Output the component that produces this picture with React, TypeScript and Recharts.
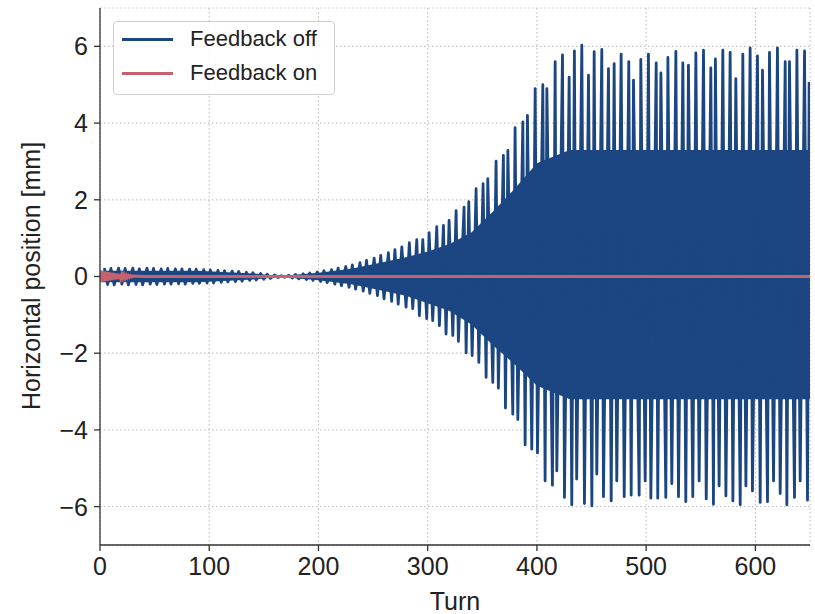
import {
  ComposedChart,
  Area,
  Line,
  XAxis,
  YAxis,
  CartesianGrid,
} from 'recharts';

// beam position vs turn
// positive excursions (turn, mm)
const upperSpikes: [number, number][] = [
  [4, 0.22], [10, 0.21], [17, 0.22], [23, 0.21], [30, 0.22], [36, 0.2], [43, 0.22], [49, 0.21],
  [56, 0.2], [62, 0.21], [69, 0.2], [75, 0.2], [82, 0.19], [88, 0.19], [95, 0.18], [101, 0.17],
  [108, 0.16], [114, 0.15], [121, 0.14], [127, 0.13], [134, 0.11], [140, 0.1], [147, 0.08],
  [153, 0.06], [160, 0.04], [166, 0.02], [173, 0.03], [179, 0.05], [186, 0.07], [192, 0.09],
  [199, 0.12], [205, 0.15], [212, 0.18], [218, 0.22], [225, 0.26], [231, 0.3], [238, 0.36],
  [244, 0.42], [251, 0.48], [257, 0.55], [264, 0.62], [270, 0.7],
  [276.3, 0.77], [283.2, 0.88], [290, 0.96], [295.5, 0.96], [301.3, 1.14], [308.3, 1.3],
  [314.4, 1.33], [319.6, 1.46], [326, 1.72], [333.3, 1.81], [337.6, 1.95], [344.3, 2.29],
  [350.7, 2.42], [355, 2.55], [362.6, 3.01], [369.3, 3.16], [373.4, 3.29], [380, 3.88],
  [387.1, 4.03], [391.3, 4.2], [398.4, 4.9], [405.4, 5.0], [409.1, 4.9], [416.7, 5.6],
  [423.4, 5.78], [429.5, 5.2], [434.3, 5.88], [441.1, 6.03], [447.2, 5.25], [452.4, 5.86],
  [459.4, 5.92], [465.5, 5.42], [470.7, 5.55], [477.1, 5.8], [484.1, 5.6], [488.4, 5.12],
  [495.1, 5.66], [502.1, 5.8], [509.2, 5.57], [513.5, 5.31], [519.9, 5.71], [527.2, 5.87],
  [533.6, 5.57], [538.7, 5.51], [545.5, 5.83], [552.5, 5.9], [559.2, 5.44], [563.4, 5.67],
  [570.2, 5.9], [576.9, 5.84], [582.1, 5.16], [588.5, 5.8], [595.2, 5.96], [601.9, 5.75],
  [606.5, 5.38], [612.9, 5.84], [620.2, 5.96], [627.3, 5.6], [631.2, 5.6], [638, 5.9],
  [645, 5.88], [649.2, 5.07],
];

// negative excursions (turn, mm)
const lowerSpikes: [number, number][] = [
  [7, -0.21], [13, -0.22], [20, -0.2], [26, -0.22], [33, -0.21], [39, -0.22], [46, -0.2],
  [52, -0.21], [59, -0.2], [65, -0.2], [72, -0.19], [78, -0.2], [85, -0.18], [91, -0.18],
  [98, -0.17], [104, -0.17], [111, -0.15], [117, -0.14], [124, -0.13], [130, -0.12],
  [137, -0.1], [143, -0.09], [150, -0.07], [156, -0.05], [163, -0.03], [169, -0.02],
  [176, -0.04], [182, -0.06], [189, -0.08], [195, -0.1], [202, -0.13], [208, -0.16],
  [215, -0.2], [221, -0.24], [228, -0.28], [234, -0.33], [241, -0.38], [247, -0.44],
  [254, -0.5], [260, -0.58], [267, -0.65], [273, -0.72],
  [280.2, -0.8], [286.3, -0.84], [292.4, -1.02], [299.1, -1.1], [304.6, -1.15], [310.7, -1.28],
  [316.8, -1.5], [323, -1.54], [328.1, -1.69], [335.2, -1.99], [340.7, -2.06], [346.8, -2.24],
  [353.5, -2.63], [359.6, -2.76], [364.7, -2.91], [371.2, -3.43], [377.9, -3.59],
  [382.5, -3.73], [389.2, -4.39], [395.3, -4.5], [400.5, -4.6], [407.5, -5.33], [414.2, -5.44],
  [418.2, -5.07], [425.2, -5.76], [431.9, -5.95], [436.4, -5.28], [443.5, -5.92],
  [450.3, -5.98], [454.8, -5.15], [460.9, -5.74], [468, -5.85], [473.1, -5.33], [479.9, -5.74],
  [486.3, -5.7], [493.6, -5.7], [499.1, -5.33], [504.3, -5.78], [510.6, -5.78], [518, -5.76],
  [523.5, -5.4], [529.6, -5.74], [536.3, -5.87], [542.7, -5.74], [548.5, -5.33], [555, -5.8],
  [561.6, -5.94], [566.8, -5.46], [573, -5.72], [579.4, -5.85], [586.1, -5.95], [591.3, -5.46],
  [597.3, -5.59], [604.4, -5.89], [611.1, -5.87], [616.6, -5.33], [622.7, -5.66],
  [628.8, -5.95], [635.8, -5.76], [641, -5.33], [647.7, -5.83],
];

// solid core of the oscillation (turn, top, bottom)
const coreBand: [number, number, number][] = [
  [0, 0.15, -0.15], [90, 0.15, -0.15], [140, 0.08, -0.08], [165, 0.01, -0.01],
  [200, 0.1, -0.1], [230, 0.2, -0.2], [260, 0.38, -0.38], [280, 0.5, -0.5],
  [300, 0.65, -0.7], [320, 0.85, -0.9], [340, 1.15, -1.25], [360, 1.7, -1.8],
  [380, 2.3, -2.3], [400, 2.95, -2.85], [430, 3.3, -3.2], [650, 3.3, -3.2],
];

// feedback on: small kick at the start, damped within ~30 turns
const feedbackOnStart = [
  0.15, -0.14, 0.14, -0.13, 0.13, -0.12, 0.12, -0.11, 0.11, -0.1, 0.1, -0.09, 0.09, -0.08,
  0.08, -0.07, 0.07, -0.06, 0.06, -0.05, 0.05, -0.04, 0.04, -0.04, 0.03, -0.03, 0.02, -0.02,
  0.02, -0.01, 0.01,
];

const xTicks = [0, 100, 200, 300, 400, 500, 600];
const yTicks = [-6, -4, -2, 0, 2, 4, 6];

const BLUE = '#1c4682';
const RED = '#c4626e';
const FONT = '"Liberation Sans", Arial, sans-serif';

const offRows = [...upperSpikes, ...lowerSpikes]
  .map(([turn, v]) => ({ turn, pos: v }))
  .sort((a, b) => a.turn - b.turn);

const bandRows = coreBand.map(([turn, top, bottom]) => ({ turn, range: [bottom, top] }));

const onRows = [
  ...feedbackOnStart.map((v, i) => ({ turn: i, pos: v })),
  { turn: 40, pos: 0 },
  { turn: 650, pos: 0 },
];

const minus = (v: number) => String(v).replace('-', '\u2212');

function YLabel() {
  return (
    <text
      x={31}
      y={276}
      transform="rotate(-90 31 276)"
      textAnchor="middle"
      dominantBaseline="central"
      fontSize={25}
      fill="#222"
      fontFamily={FONT}
    >
      Horizontal position [mm]
    </text>
  );
}

function XLabel() {
  return (
    <text x={455} y={601} textAnchor="middle" dominantBaseline="central" fontSize={25} fill="#222" fontFamily={FONT}>
      Turn
    </text>
  );
}

function LegendBox() {
  const row = (color: string, label: string, top: number) => (
    <div style={{ position: 'absolute', left: 0, top, height: 34, display: 'flex', alignItems: 'center' }}>
      <div style={{ width: 51, height: 0, borderTop: `3px solid ${color}`, marginLeft: 8, marginRight: 17 }} />
      <span style={{ fontSize: 22, color: '#222', fontFamily: FONT }}>{label}</span>
    </div>
  );
  return (
    <div
      style={{
        position: 'absolute',
        left: 113,
        top: 21,
        width: 222,
        height: 74,
        border: '1px solid #d0d0d0',
        borderRadius: 4,
        background: 'rgba(255,255,255,0.85)',
        boxSizing: 'border-box',
      }}
    >
      {row(BLUE, 'Feedback off', 0)}
      {row(RED, 'Feedback on', 34)}
    </div>
  );
}

export default function App() {
  return (
    <div style={{ position: 'absolute', left: 0, top: 0, width: 815, height: 614, background: '#fff' }}>
      <ComposedChart width={815} height={614} margin={{ top: 8, right: 5, bottom: 0, left: 0 }}>
        <CartesianGrid stroke="#c4c4c4" strokeDasharray="1.5 2.5" strokeWidth={1.2} />
        <XAxis
          dataKey="turn"
          type="number"
          domain={[0, 650]}
          ticks={xTicks}
          allowDataOverflow
          height={69}
          stroke="#333"
          strokeWidth={1.3}
          tickSize={6}
          tickMargin={6}
          tick={{ fontSize: 25, fill: '#222', fontFamily: FONT }}
          label={<XLabel />}
        />
        <XAxis
          xAxisId="top"
          orientation="top"
          type="number"
          domain={[0, 650]}
          height={0}
          tick={false}
          tickLine={false}
          stroke="#333"
          strokeWidth={1.3}
        />
        <YAxis
          type="number"
          domain={[-7, 7]}
          ticks={yTicks}
          allowDataOverflow
          width={100}
          stroke="#333"
          strokeWidth={1.3}
          tickSize={6}
          tickMargin={6}
          tickFormatter={minus}
          tick={{ fontSize: 25, fill: '#222', fontFamily: FONT }}
          label={<YLabel />}
        />
        <YAxis
          yAxisId="right"
          orientation="right"
          domain={[-7, 7]}
          width={0}
          tick={false}
          tickLine={false}
          stroke="#333"
          strokeWidth={1.3}
        />
        <Area
          data={bandRows}
          dataKey="range"
          type="linear"
          stroke="none"
          fill={BLUE}
          fillOpacity={1}
          isAnimationActive={false}
        />
        <Line
          data={offRows}
          dataKey="pos"
          name="Feedback off"
          type="linear"
          stroke={BLUE}
          strokeWidth={2.8}
          strokeLinejoin="round"
          dot={false}
          isAnimationActive={false}
        />
        <Line
          data={onRows}
          dataKey="pos"
          name="Feedback on"
          type="linear"
          stroke={RED}
          strokeWidth={3}
          dot={false}
          isAnimationActive={false}
        />
      </ComposedChart>
      <LegendBox />
    </div>
  );
}
